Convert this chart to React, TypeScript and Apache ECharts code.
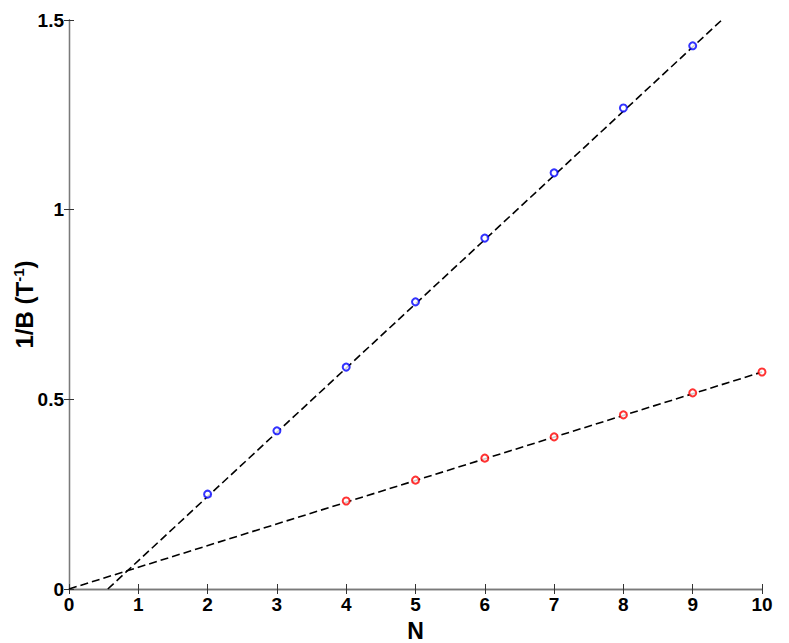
import React, { useEffect, useRef } from "react";
import * as echarts from "echarts";

const blueN = [2, 3, 4, 5, 6, 7, 8, 9];
const blueInvB = [0.25, 0.417, 0.585, 0.757, 0.925, 1.097, 1.268, 1.432];
const redN = [4, 5, 6, 7, 8, 9, 10];
const redInvB = [0.232, 0.287, 0.345, 0.401, 0.459, 0.517, 0.572];
const blueFit = [[0.56, 0], [9.42, 1.5]];
const redFit = [[0, 0], [10, 0.572]];
const xTicks = [0, 10, 1];
const yTicks = [0, 1.5, 0.5];

export default function App() {
  const ref = useRef<HTMLDivElement>(null);
  useEffect(() => {
    if (!ref.current) return;
    const chart = echarts.init(ref.current, null, { renderer: "svg" });
    const font = "Arial, 'Liberation Sans', sans-serif";
    const axisLine = { show: true, lineStyle: { color: "#7a7a7a", width: 1.3 } };
    const tick = { show: true, inside: true, length: 5, lineStyle: { color: "#333", width: 1 } };
    const lbl = { fontFamily: font, fontWeight: "bold", fontSize: 19, color: "#000" };
    chart.setOption({
      animation: false,
      backgroundColor: "#fff",
      grid: { left: 69, top: 20, right: 27, bottom: 54, containLabel: false, outerBoundsMode: "none" },
      xAxis: [
        {
          type: "value", min: xTicks[0], max: xTicks[1], interval: xTicks[2],
          axisLine, axisTick: tick, splitLine: { show: false },
          axisLabel: { ...lbl, margin: 6 },
          name: "N", nameLocation: "middle", nameGap: 30, nameMoveOverlap: false,
          nameTextStyle: { fontFamily: font, fontWeight: "bold", fontSize: 23, color: "#000" },
        },
        {
          type: "value", position: "top", min: xTicks[0], max: xTicks[1], interval: xTicks[2],
          axisLine, axisTick: tick, splitLine: { show: false }, axisLabel: { show: false },
        },
      ],
      yAxis: [
        {
          type: "value", min: yTicks[0], max: yTicks[1], interval: yTicks[2],
          axisLine, axisTick: tick, splitLine: { show: false },
          axisLabel: { ...lbl, margin: 5 },
          name: "{a|1/B (T}{s|-1}{a|)}", nameLocation: "middle", nameGap: 32, nameMoveOverlap: false,
          nameTextStyle: {
            rich: {
              a: { fontFamily: font, fontWeight: "bold", fontSize: 24, color: "#000" },
              s: { fontFamily: font, fontWeight: "bold", fontSize: 15, color: "#000", padding: [0, 0, 11, 0] },
            },
          },
        },
        {
          type: "value", position: "right", min: yTicks[0], max: yTicks[1], interval: yTicks[2],
          axisLine, axisTick: tick, splitLine: { show: false }, axisLabel: { show: false },
        },
      ],
      series: [
        {
          type: "line", data: blueFit, symbol: "none",
          lineStyle: { color: "#000", width: 1.6, type: [8, 4] }, z: 2,
        },
        {
          type: "line", data: redFit, symbol: "none",
          lineStyle: { color: "#000", width: 1.6, type: [8, 4] }, z: 2,
        },
        {
          type: "scatter", data: blueN.map((n, i) => [n, blueInvB[i]]),
          symbol: "emptyCircle", symbolSize: 7,
          itemStyle: { color: "#0000ff", borderColor: "#0000ff", borderWidth: 1.5 }, z: 3,
        },
        {
          type: "scatter", data: redN.map((n, i) => [n, redInvB[i]]),
          symbol: "emptyCircle", symbolSize: 7,
          itemStyle: { color: "#ff0000", borderColor: "#ff0000", borderWidth: 1.5 }, z: 3,
        },
      ],
    });
    return () => chart.dispose();
  }, []);
  return <div ref={ref} style={{ width: 789, height: 643, position: "absolute", left: 0, top: 0 }} />;
}
